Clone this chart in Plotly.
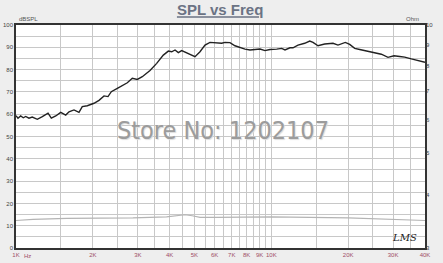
import plotly.graph_objects as go

# SPL response (Hz, dB SPL)
spl_freq = [1000, 1018, 1043, 1068, 1091, 1124, 1158, 1212, 1268, 1335, 1375, 1431,
            1497, 1566, 1613, 1687, 1765, 1818, 1903, 2021, 2114, 2212, 2293, 2362,
            2494, 2609, 2729, 2855, 2987, 3124, 3221, 3349, 3557, 3776, 3951, 4073,
            4197, 4323, 4457, 4663, 4878, 5025, 5257, 5500, 5753, 6110, 6393, 6586,
            6890, 7207, 7541, 7889, 8254, 8767, 9031, 9447, 9883, 10500, 10985, 11316,
            11836, 12162, 12725, 13515, 14140, 14568, 15240, 16190, 17448, 18250, 18805,
            19495, 20280, 21220, 22200, 23560, 24650, 25790, 26970, 28650, 30250, 31840,
            33310, 35350, 37550, 40000]
spl_db = [59.3, 58.2, 59.2, 58.4, 59.0, 58.2, 58.7, 57.7, 58.9, 60.5, 58.2, 59.2,
          60.8, 59.6, 61.1, 61.9, 60.8, 63.4, 63.8, 64.9, 66.2, 68.2, 67.9, 70.1,
          71.6, 72.8, 74.1, 76.1, 75.6, 76.8, 77.9, 79.6, 82.8, 86.5, 88.3, 88.0,
          88.8, 87.6, 88.5, 87.6, 86.5, 85.8, 88.0, 91.0, 92.2, 91.9, 91.8, 92.2,
          92.1, 90.7, 89.8, 89.2, 88.8, 88.9, 89.2, 88.5, 89.0, 89.2, 89.5, 88.8,
          89.8, 89.8, 91.0, 91.8, 92.8, 92.2, 90.7, 91.5, 91.8, 91.0, 91.5,
          92.2, 91.3, 89.5, 89.0, 88.3, 87.7, 87.4, 86.9, 85.5, 86.2, 85.9,
          85.6, 84.8, 84.0, 83.3]

# Impedance (Hz, Ohm)
imp_freq = [1000, 1166, 1580, 2130, 2870, 3890, 4300, 4590, 4900, 5260, 6110, 10000, 20000, 40000]
imp_ohm = [3.48, 3.50, 3.52, 3.52, 3.53, 3.55, 3.57, 3.59, 3.57, 3.54, 3.54, 3.55, 3.53, 3.48]

# Axis ticks
x_tickvals = [1000, 1500, 2000, 2500, 3000, 3500, 4000, 4500, 5000, 5500, 6000, 6500,
              7000, 7500, 8000, 8500, 9000, 9500, 10000, 15000, 20000, 25000, 30000, 35000, 40000]
x_ticktext = ["1K", "", "2K", "", "3K", "", "4K", "", "5K", "", "6K", "",
              "7K", "", "8K", "", "9K", "", "10K", "", "20K", "", "30K", "", "40K"]
y_tickvals = list(range(0, 101, 5))
y_ticktext = [str(v) if v % 10 == 0 else "" for v in y_tickvals]
y2_tickvals = [3, 4, 5, 6, 7, 8, 9, 10]
y2_ticktext = [str(v) for v in y2_tickvals]

fig = go.Figure()
fig.add_trace(go.Scatter(x=imp_freq, y=imp_ohm, mode="lines", yaxis="y2",
                         line=dict(color="#b4b4b4", width=1.2), hoverinfo="skip"))
fig.add_trace(go.Scatter(x=spl_freq, y=spl_db, mode="lines",
                         line=dict(color="#222222", width=1.4), hoverinfo="skip"))

fig.update_layout(
    width=443, height=263,
    margin=dict(l=16, r=18, t=25, b=15, autoexpand=False),
    paper_bgcolor="#eeeeee", plot_bgcolor="#ffffff",
    showlegend=False,
    font=dict(family="Liberation Sans, Arial, sans-serif"),
    title=dict(text='SPL vs Freq',
               x=0.497, xanchor="center", y=1 - 10 / 263, yanchor="middle",
               font=dict(size=15, color="#6b7384", family="Liberation Sans, Arial, sans-serif",
                         weight="bold", lineposition="under")),
    xaxis=dict(type="log", range=[3, 4.60206], tickvals=x_tickvals, ticktext=x_ticktext,
               showgrid=True, gridcolor="#c8c8c8", gridwidth=1, zeroline=False,
               showline=True, linecolor="#333333", linewidth=2, mirror=True, automargin=False,
               ticks="", tickfont=dict(size=6, color="#a04d66")),
    yaxis=dict(range=[0, 100], tickvals=y_tickvals, ticktext=y_ticktext,
               showgrid=True, gridcolor="#c8c8c8", gridwidth=1, zeroline=False,
               showline=True, linecolor="#333333", linewidth=1.5, mirror=True, automargin=False,
               ticks="", tickfont=dict(size=6, color="#444444")),
    yaxis2=dict(type="log", range=[0.4771, 1.0], overlaying="y", side="right",
                tickvals=y2_tickvals, ticktext=y2_ticktext, showgrid=False, automargin=False,
                zeroline=False, ticks="", tickfont=dict(size=6, color="#444444")),
    annotations=[
        dict(text="Hz", xref="paper", yref="paper", x=0.027, y=0, yshift=-8,
             xanchor="center", yanchor="middle", showarrow=False,
             font=dict(size=6, color="#a04d66")),
        dict(text="dBSPL", xref="paper", yref="paper", x=0.0, y=1, xshift=1, yshift=1,
             xanchor="left", yanchor="bottom", showarrow=False,
             font=dict(size=6, color="#555555")),
        dict(text="Ohm", xref="paper", yref="paper", x=1.0, y=1, xshift=-4, yshift=1,
             xanchor="right", yanchor="bottom", showarrow=False,
             font=dict(size=6, color="#555555")),
        dict(text="Store No: 1202107", xref="paper", yref="paper", x=0.505, y=0.526,
             xanchor="center", yanchor="middle", showarrow=False,
             font=dict(size=25, color="#9c9c9c",
                       family="Liberation Sans Narrow, DejaVu Sans Condensed, Liberation Sans, sans-serif",
                       shadow="1px 1px 1px #dddddd")),
        dict(text="<i>LMS</i>", xref="paper", yref="paper", x=0.985, y=0.045,
             xanchor="right", yanchor="middle", showarrow=False,
             font=dict(size=10, color="#222222", family="DejaVu Serif, serif")),
    ],
)

fig.write_html("out.html")
